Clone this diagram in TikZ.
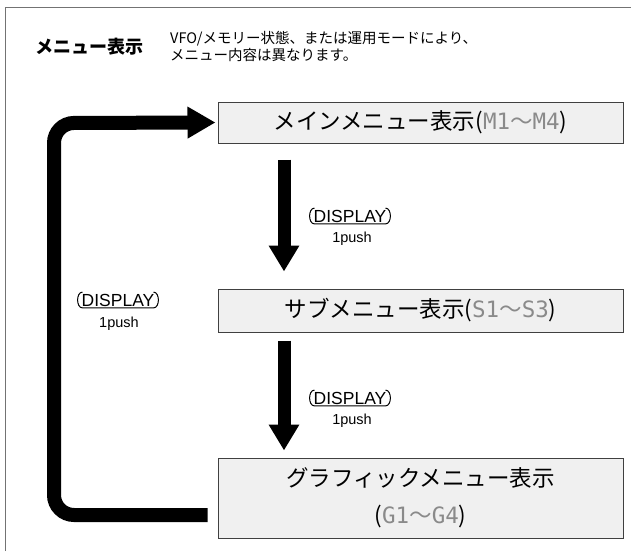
\documentclass[tikz,border=0pt]{standalone}
\usepackage{fontspec}
\setmainfont{Liberation Sans}
\newfontfamily\jp{Noto Sans CJK JP}
\newfontfamily\dotf{DejaVu Sans Mono}
\usetikzlibrary{arrows.meta}
\definecolor{dotgray}{HTML}{8A8A8A}
\newcommand\lcd[1]{{\color{dotgray}\dotf #1}}
\newcommand\lcdw{{\color{dotgray}\jp ～}}
\newcommand\displbl[3]{%
  \node[lbl] (#1) at (#2,#3) {DISPLAY};
  \draw[line width=1pt]
    ([xshift=5pt]#1.north west) .. controls ([xshift=-1.5pt]#1.north west) and ([xshift=-1.5pt]#1.south west) .. ([xshift=5pt]#1.south west)
    -- ([xshift=-5pt]#1.south east)
    .. controls ([xshift=1.5pt]#1.south east) and ([xshift=1.5pt]#1.north east) .. ([xshift=-5pt]#1.north east);
}
\begin{document}
\begin{tikzpicture}[x=1pt,y=-1pt,
  box/.style={draw=black!75, fill=black!6, line width=1pt, minimum width=405pt, inner sep=0pt},
  lbl/.style={font=\fontsize{17.5}{17.5}\selectfont, inner xsep=4pt, inner ysep=1.5pt},
  push/.style={font=\fontsize{14.5}{14.5}\selectfont, inner sep=0pt},
  bigarrow/.style={line width=13pt, -{Triangle[length=26pt,width=29pt]}},
  loop/.style={line width=14pt, rounded corners=20pt, -{Triangle[length=28pt,width=30pt]}},
  boxtext/.style={font=\jp\fontsize{22.5}{37}\selectfont, align=center},
]
\useasboundingbox (0,0) rectangle (631,551);
\draw[black!55, line width=1.5pt] (5.5,551) -- (5.5,7.5) -- (631,7.5);

\node[anchor=west, font=\jp\bfseries\fontsize{18}{18}\selectfont, inner sep=0pt] (title) at (35,47) {メニュー表示};
\node[anchor=north west, align=left, font=\jp\fontsize{14.5}{17}\selectfont, inner sep=0pt] (desc) at (170,31)
  {VFO/メモリー状態、または運用モードにより、\\メニュー内容は異なります。};

\node[box, boxtext, minimum height=41pt] (main) at (420.5,122.5)
  {メインメニュー表示{\jp (}\lcd{M1}\lcdw\lcd{M4}{\jp )}};
\node[box, boxtext, minimum height=43pt] (sub) at (420.5,310.5)
  {サブメニュー表示{\jp (}\lcd{S1}\lcdw\lcd{S3}{\jp )}};
\node[box, boxtext, minimum height=80pt] (gfx) at (420.5,498)
  {グラフィックメニュー表示\\{\jp (}\lcd{G1}\lcdw\lcd{G4}{\jp )}};

\coordinate (ax) at (284,0);
\draw[bigarrow, shorten <=16pt, shorten >=17pt] (main.south -| ax) -- (sub.north -| ax);
\draw[bigarrow, shorten <=8pt, shorten >=7pt] (sub.south -| ax) -- (gfx.north -| ax);

\coordinate (c1) at (54,515);
\coordinate (c2) at (54,123);
\draw[loop, shorten <=10pt, shorten >=2pt] ([yshift=-17pt]gfx.west) -- (c1) -- (c2) -- (main.west);

\displbl{d1}{350}{216}
\node[push] (p1) at (352,239) {1push};
\displbl{d2}{350}{398}
\node[push] (p2) at (352,421) {1push};
\displbl{d3}{118}{300}
\node[push] (p3) at (119,324) {1push};
\end{tikzpicture}
\end{document}
